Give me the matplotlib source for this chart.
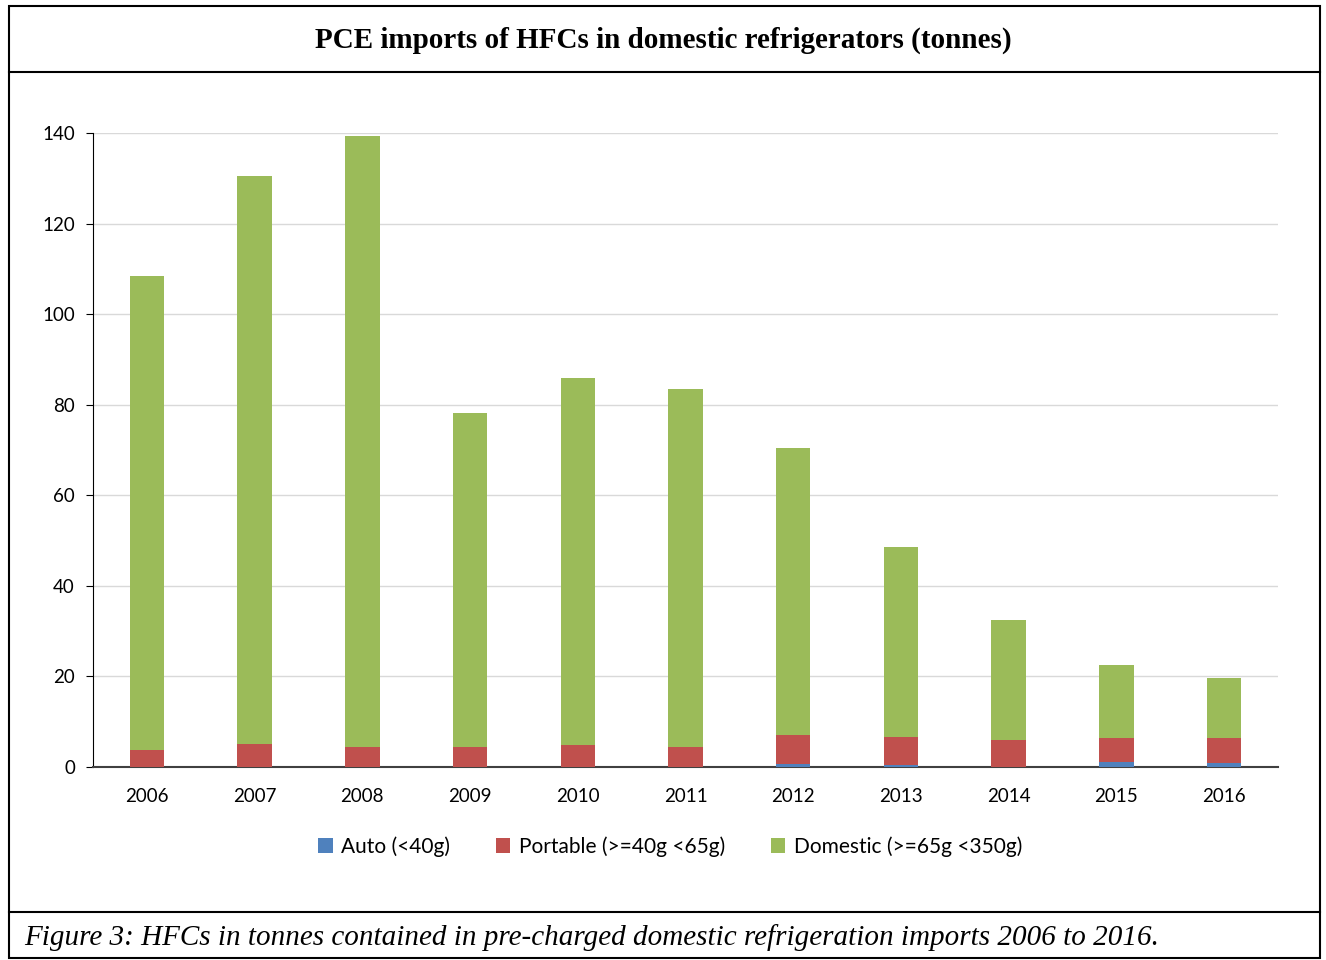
import matplotlib.pyplot as plt
from matplotlib.lines import Line2D
from matplotlib.patches import Rectangle
import numpy as np

# Data (tonnes)
years = ['2006', '2007', '2008', '2009', '2010', '2011', '2012', '2013', '2014', '2015', '2016']
auto = [0, 0, 0, 0, 0, 0, 0.7, 0.4, 0, 1.0, 0.8]
portable = [3.7, 5.1, 4.4, 4.4, 4.9, 4.4, 6.4, 6.2, 6.0, 5.4, 5.6]
domestic = [104.7, 125.4, 134.9, 73.8, 81.0, 79.1, 63.3, 42.0, 26.5, 16.1, 13.3]

c_auto = '#4f81bd'
c_port = '#c0504d'
c_dom = '#9bbb59'

fig = plt.figure(figsize=(13.26, 9.6), dpi=100)
ax = fig.add_axes([93 / 1326, 193 / 960, 1185 / 1326, 634 / 960])

x = np.arange(len(years))
w = 0.32
auto = np.array(auto)
portable = np.array(portable)
domestic = np.array(domestic)
ax.bar(x, auto, w, color=c_auto, label='Auto (<40g)', zorder=3)
ax.bar(x, portable, w, bottom=auto, color=c_port, label='Portable (>=40g <65g)', zorder=3)
ax.bar(x, domestic, w, bottom=auto + portable, color=c_dom, label='Domestic (>=65g <350g)', zorder=3)

ax.set_xlim(-0.5, len(years) - 0.5)
ax.set_ylim(0, 140)
ax.set_yticks(range(0, 141, 20))
ax.set_xticks(x)
ax.set_xticklabels(years)
ax.grid(axis='y', color='#d9d9d9', linewidth=1, zorder=0)
for s in ['top', 'right']:
    ax.spines[s].set_visible(False)
ax.spines['left'].set_color('black')
ax.spines['bottom'].set_color('#404040')
ax.spines['bottom'].set_linewidth(1.5)
ax.tick_params(axis='y', length=5, direction='out', labelsize=13.5, pad=8)
ax.tick_params(axis='x', length=0, labelsize=13.5, pad=15)
for lab in ax.get_xticklabels() + ax.get_yticklabels():
    lab.set_fontfamily('Lato')

leg = ax.legend(loc='upper center', bbox_to_anchor=(0.487, -0.08), ncol=3, frameon=False,
                handlelength=0.7, handleheight=0.7, handletextpad=0.4, columnspacing=2.2,
                prop={'family': 'Lato', 'size': 15})

# frame and title / caption boxes
fig.add_artist(Rectangle((9 / 1326, 2 / 960), 1311 / 1326, 952 / 960, transform=fig.transFigure,
                         fill=False, edgecolor='black', linewidth=1.5))
fig.add_artist(Line2D([9 / 1326, 1320 / 1326], [1 - 72 / 960] * 2, color='black', linewidth=1.5))
fig.add_artist(Line2D([9 / 1326, 1320 / 1326], [1 - 912 / 960] * 2, color='black', linewidth=1.5))

fig.text(0.5, 1 - 40 / 960, 'PCE imports of HFCs in domestic refrigerators (tonnes)',
         ha='center', va='center', family='Liberation Serif', weight='bold', fontsize=21)
fig.text(24 / 1326, 1 - 938 / 960,
         'Figure 3: HFCs in tonnes contained in pre-charged domestic refrigeration imports 2006 to 2016.',
         ha='left', va='center', family='Liberation Serif', style='italic', fontsize=21)

fig.savefig('out.png', dpi=100)
